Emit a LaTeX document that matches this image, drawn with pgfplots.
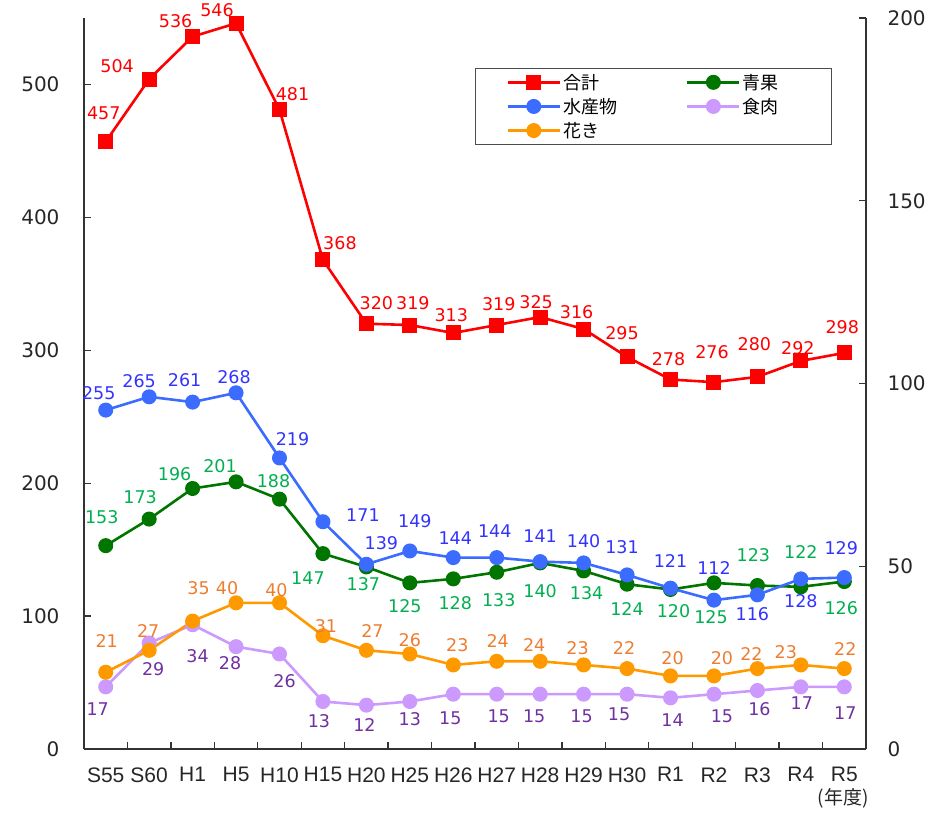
\documentclass[border=0pt]{standalone}
\usepackage{pgfplots}
\pgfplotsset{compat=1.18}
\usepackage{pgfplotstable}
\usepackage{fontspec}
\setmainfont{DejaVu Sans}
\newfontfamily\cjk{Noto Sans CJK JP}
\newfontfamily\xfont{Liberation Sans}

\definecolor{cred}{RGB}{255,0,0}
\definecolor{cgreen}{RGB}{0,118,0}
\definecolor{lgreen}{RGB}{0,176,80}
\definecolor{cblue}{RGB}{59,108,255}
\definecolor{lblue}{RGB}{51,51,255}
\definecolor{corange}{RGB}{255,153,0}
\definecolor{lorange}{RGB}{237,125,49}
\definecolor{cpurple}{RGB}{204,153,255}
\definecolor{lpurple}{RGB}{112,48,160}

% x = category index, dx/dy = label offset (pt)
\pgfplotstableread{
x y dx dy
0 457 -2 28
1 504 -32 13
2 536 -17 15
3 546 -19 13
4 481 13 16
5 368 17 17
6 320 10 21
7 319 3 22
8 313 -2 18
9 319 2 21
10 325 -4 15
11 316 -7 17
12 295 -5 24
13 278 -2 20
14 276 -2 30
15 280 -3 33
16 292 -3 13
17 298 -2 26
}\total

\pgfplotstableread{
x y dx dy
0 255 -7 17
1 265 -10 16
2 261 -8 22
3 268 -2 16
4 219 13 19
5 171 40 7
6 139 15 21
7 149 5 30
8 144 2 19
9 144 -2 26
10 141 0 25
11 140 0 22
12 131 -5 28
13 121 0 27
14 112 0 32
15 116 -5 -19
16 128 0 -22
17 129 -3 29
}\fish

\pgfplotstableread{
x y dx dy
0 153 -4 29
1 173 -9 22
2 196 -18 14
3 201 -16 16
4 188 -6 18
5 147 -15 -24
6 137 -3 -17
7 125 -5 -23
8 128 2 -24
9 133 2 -28
10 140 0 -28
11 134 3 -22
12 124 0 -25
13 120 3 -22
14 125 -3 -34
15 123 -4 30
16 122 0 35
17 126 -3 -27
}\veg

\pgfplotstableread{
x y dx dy
0 21 1 31
1 27 -1 19
2 35 6 33
3 40 -9 15
4 40 -3 13
5 31 3 10
6 27 6 19
7 26 0 14
8 23 4 20
9 24 1 20
10 24 -6 16
11 23 -6 17
12 22 -3 21
13 20 2 18
14 20 8 18
15 22 -6 15
16 23 -15 13
17 22 1 20
}\flower

\pgfplotstableread{
x y dx dy
0 17 -8 -22
1 29 4 -26
2 34 5 -31
3 28 -6 -16
4 26 5 -27
5 13 -4 -20
6 12 -2 -20
7 13 0 -18
8 15 -3 -24
9 15 2 -22
10 15 -6 -22
11 15 -2 -22
12 15 -8 -20
13 14 2 -22
14 15 8 -22
15 16 2 -19
16 17 1 -16
17 17 1 -26
}\meat

\pgfplotsset{
  base/.style={
    scale only axis, width=782pt, height=731pt,
    at={(84pt,63pt)}, anchor=south west,
    xmin=-0.5, xmax=17.5, ymin=0, clip=false,
    axis line style={line width=1.3pt, black!80},
    tick style={line width=1.3pt, black!80},
    tick align=inside, major tick length=7pt,
    /pgf/number format/assume math mode=true,
    tick label style={font=\fontsize{20}{23}\selectfont, text=black!85},
  },
  ser/.style={line width=2.6pt, color=#1, mark=*, mark size=6.2pt,
    mark options={solid, fill=#1, draw=#1}},
  lab/.style={nodes near coords, nodes near coords align=center,
    visualization depends on={\thisrow{dx} \as \dx},
    visualization depends on={\thisrow{dy} \as \dy},
    every node near coord/.append style={font=\fontsize{17.5}{20}\selectfont,
      text=#1, anchor=center, inner sep=0pt, xshift=\dx pt, yshift=\dy pt}},
  legend image code/.code={
    \draw[mark repeat=2, mark phase=2, #1] plot coordinates {(0pt,0pt) (26pt,0pt) (52pt,0pt)};},
}

\begin{document}
\begin{tikzpicture}
\path[use as bounding box] (0,0) rectangle (931pt,812pt);

\begin{axis}[base, ymax=550,
  axis x line*=bottom, axis y line*=left,
  ytick={0,100,...,500},
  yticklabel style={xshift=-21pt},
  xtick={0.5,1.5,...,16.5}, xticklabels={},
  extra x ticks={0,...,17},
  extra x tick labels={S55,S60,H1,H5,H10,H15,H20,H25,H26,H27,H28,H29,H30,R1,R2,R3,R4,R5},
  extra x tick style={major tick length=0pt,
    xticklabel style={font=\xfont\fontsize{21}{24}\selectfont, yshift=-15pt}},
  legend columns=2,
  legend cell align=left,
  legend style={at={(axis description cs:0.5,0.9316)}, anchor=north west,
    draw=black!70, line width=1pt, font=\cjk\fontsize{18}{20}\selectfont,
    inner xsep=31pt, inner ysep=3.5pt, row sep=3.5pt,
    /tikz/column 2/.style={text width=121pt},
    /tikz/column 4/.style={text width=56pt}},
]
\addplot[ser=cred, mark=square*, mark size=6.2pt, lab=cred] table[x=x,y=y] {\total};
\addlegendentry{合計}
\addplot[ser=cgreen, lab=lgreen] table[x=x,y=y] {\veg};
\addlegendentry{青果}
\addplot[ser=cblue, lab=lblue] table[x=x,y=y] {\fish};
\addlegendentry{水産物}
\addlegendimage{ser=cpurple}
\addlegendentry{食肉}
\addlegendimage{ser=corange}
\addlegendentry{花き}
\node[font=\cjk\fontsize{19}{21}\selectfont, text=black!85] at (axis description cs:0.9706,-0.0670) {(年度)};
\end{axis}

\begin{axis}[base, ymax=200,
  axis x line=none, axis y line*=right,
  ytick={0,50,...,200},
  yticklabel style={xshift=18pt},
]
\addplot[ser=cpurple, lab=lpurple] table[x=x,y=y] {\meat};
\addplot[ser=corange, lab=lorange] table[x=x,y=y] {\flower};
\end{axis}
\end{tikzpicture}
\end{document}
